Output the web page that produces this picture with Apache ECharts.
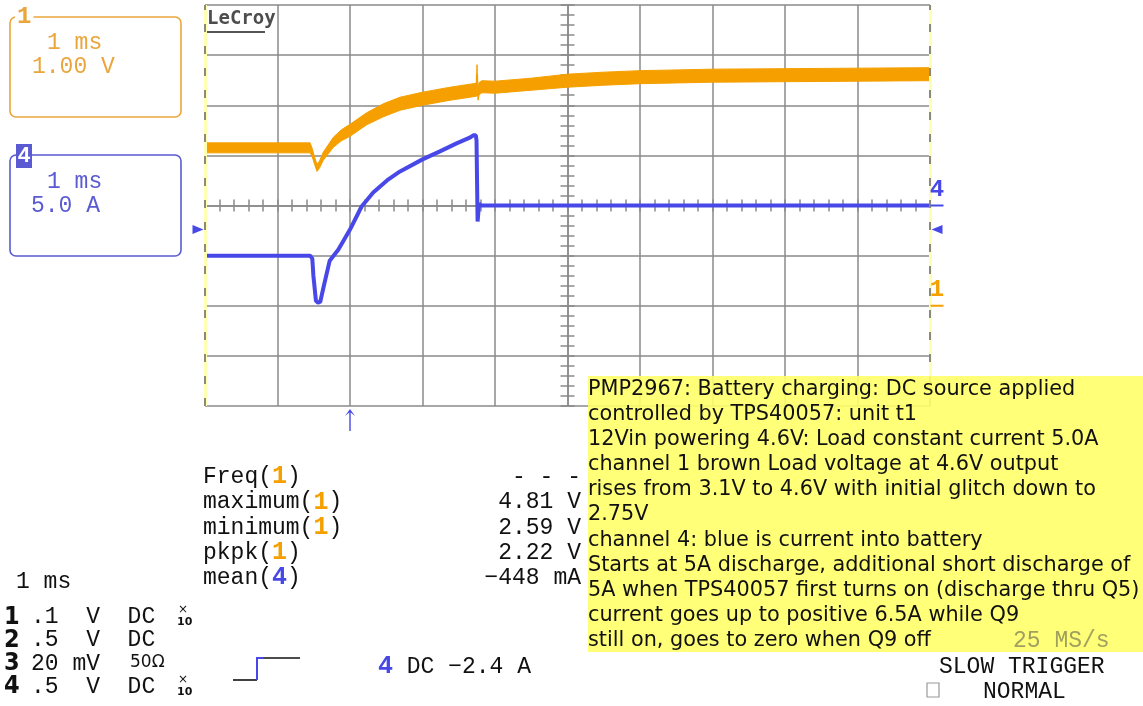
<!DOCTYPE html>
<html><head><meta charset="utf-8">
<script src="https://cdn.jsdelivr.net/npm/echarts@6/dist/echarts.min.js"></script>
<style>html,body{margin:0;padding:0;background:#fff;}#c{width:1143px;height:706px;}</style>
</head><body><div id="c"></div>
<script>
// ---- data (time in ms, trigger at 0) ----
const ch1Time  = [-2.0, -0.55, -0.52, -0.49, -0.455, -0.42, -0.37, -0.30, -0.23, -0.12, 0.0, 0.23, 0.46, 0.69, 1.0, 1.38, 1.70, 1.745, 1.752, 1.76, 1.768, 1.78, 1.82, 2.0, 2.5, 3.0, 3.5, 4.0, 5.0, 6.0, 7.0, 8.0];
const ch1Volts = [3.15, 3.15, 3.05, 2.90, 2.75, 2.82, 2.98, 3.12, 3.26, 3.40, 3.50, 3.73, 3.90, 4.03, 4.13, 4.23, 4.30, 4.31, 4.62, 4.30, 4.20, 4.33, 4.37, 4.36, 4.42, 4.49, 4.53, 4.56, 4.59, 4.60, 4.61, 4.62];
const ch1Noise = [0.10, 0.10, 0.08, 0.07, 0.07, 0.07, 0.08, 0.09, 0.10, 0.11, 0.12, 0.12, 0.13, 0.13, 0.13, 0.13, 0.13, 0.13, 0.19, 0.12, 0.10, 0.12, 0.12, 0.12, 0.12, 0.13, 0.13, 0.13, 0.13, 0.13, 0.13, 0.13];
const ch4Time  = [-2.0, -0.55, -0.52, -0.505, -0.47, -0.44, -0.41, -0.37, -0.28, -0.16, 0.0, 0.16, 0.32, 0.51, 0.69, 1.0, 1.24, 1.47, 1.66, 1.70, 1.735, 1.745, 1.76, 1.78, 1.80, 8.0];
const ch4Amps  = [-5.0, -5.0, -5.3, -7.0, -9.5, -9.7, -9.6, -8.3, -5.5, -4.4, -2.4, -0.1, 1.3, 2.5, 3.4, 4.6, 5.4, 6.2, 6.8, 7.0, 7.0, 6.5, -1.6, 0.2, 0.0, 0.0];
const triggerLevel = -2.4;
const measureNames = ['Freq', 'maximum', 'minimum', 'pkpk', 'mean'];
const measureChans = ['1', '1', '1', '1', '4'];
const measureValues = ['- - -', '4.81 V', '2.59 V', '2.22 V', '\u2212448 mA'];
const chanNums = ['1', '2', '3', '4'];
const chanRows = ['.1  V  DC', '.5  V  DC', '20 mV', '.5  V  DC'];
const annotationLines = [
  'PMP2967: Battery charging: DC source applied',
  'controlled by TPS40057: unit t1',
  '12Vin powering 4.6V: Load constant current 5.0A',
  'channel 1 brown Load voltage at 4.6V output',
  'rises from 3.1V to 4.6V with initial glitch down to',
  '2.75V',
  'channel 4: blue is current into battery',
  'Starts at 5A discharge, additional short discharge of',
  '5A when TPS40057 first turns on (discharge thru Q5)',
  'current goes up to positive 6.5A while Q9',
  'still on, goes to zero when Q9 off'
];

// ---- styling ----
const ORANGE = '#F5A000', ORANGE_T = '#EAA53C', BLUE = '#4848E8', BLUE_T = '#5A5AD2';
const GRID = '#8a8a8a';
const MONO = "'Liberation Mono','DejaVu Sans Mono',monospace";
const SANS = "'DejaVu Sans',sans-serif";

const ch1Center = ch1Volts.map((v, i) => [ch1Time[i], v]);
const ch4Data  = ch4Amps.map((a, i) => [ch4Time[i], a]);

function T(x, y, text, extra) {
  return { type: 'text', z: 100, silent: true,
    style: Object.assign({ x: x, y: y, text: text, fontFamily: MONO, fontSize: 23, fill: '#111',
      align: 'left', verticalAlign: 'middle' }, extra || {}) };
}
const lineSty = { color: GRID, width: 1.5 };

const graphics = [];
// channel boxes
graphics.push({ type: 'rect', z: 90, shape: { x: 10, y: 17, width: 171, height: 100, r: 6 }, style: { fill: 'none', stroke: ORANGE_T, lineWidth: 1.6 } });
graphics.push(T(15, 17, '1', { fill: ORANGE_T, fontWeight: 'bold', fontSize: 24, backgroundColor: '#fff', padding: [0, 2, 0, 2] }));
graphics.push(T(47, 43, '1 ms', { fill: ORANGE_T }));
graphics.push(T(32, 67, '1.00 V', { fill: ORANGE_T }));
graphics.push({ type: 'rect', z: 90, shape: { x: 10, y: 155, width: 171, height: 101, r: 6 }, style: { fill: 'none', stroke: BLUE_T, lineWidth: 1.6 } });
graphics.push({ type: 'rect', z: 95, shape: { x: 16, y: 144, width: 16, height: 24 }, style: { fill: BLUE_T } });
graphics.push(T(24, 156, '4', { fill: '#fff', fontWeight: 'bold', fontSize: 22, align: 'center' }));
graphics.push(T(47, 182, '1 ms', { fill: BLUE_T }));
graphics.push(T(31, 206, '5.0 A', { fill: BLUE_T }));
// logo
graphics.push(T(207, 19, 'LeCroy', { fill: '#4d4d4d', fontWeight: 'bold', fontSize: 19, fontFamily: "'DejaVu Sans Mono',monospace" }));
graphics.push({ type: 'line', z: 100, shape: { x1: 207, y1: 32, x2: 265, y2: 32 }, style: { stroke: '#555', lineWidth: 2 } });
// measurements
measureNames.forEach((n, i) => {
  const y = 477 + i * 25.3;
  const c = measureChans[i] === '4' ? BLUE : ORANGE;
  graphics.push(T(203, y, n + '({c|' + measureChans[i] + '})', {
    rich: { c: { fill: c, fontWeight: 'bold', fontSize: 25, fontFamily: MONO } } }));
  graphics.push(T(581, y, measureValues[i], { align: 'right' }));
});
// bottom-left channel table
graphics.push(T(16, 582, '1 ms'));
chanNums.forEach((n, i) => {
  const y = 617 + i * 23.3;
  graphics.push(T(4, y, n, { fontWeight: 'bold', fontSize: 25, fontFamily: "'Liberation Sans Narrow','DejaVu Sans Condensed',sans-serif" }));
  graphics.push(T(31, y, chanRows[i]));
});
graphics.push(T(130, 663, '50\u03A9', { fontSize: 17, fontFamily: SANS }));
[617, 687].forEach(y => {
  graphics.push(T(178, y - 7, '\u00D7', { fontSize: 12, fontFamily: SANS }));
  graphics.push(T(177, y + 5, '10', { fontSize: 11, fontWeight: 'bold', fontFamily: SANS }));
});
// trigger symbol
graphics.push({ type: 'polyline', z: 100, shape: { points: [[233, 680], [257, 680]] }, style: { stroke: '#111', lineWidth: 1.6, fill: 'none' } });
graphics.push({ type: 'polyline', z: 100, shape: { points: [[257, 680], [257, 658], [263, 658]] }, style: { stroke: BLUE, lineWidth: 2, fill: 'none' } });
graphics.push({ type: 'polyline', z: 100, shape: { points: [[263, 658], [300, 658]] }, style: { stroke: '#111', lineWidth: 1.6, fill: 'none' } });
graphics.push(T(378, 667, '{b|4} DC \u22122.4 A', { rich: { b: { fill: BLUE, fontWeight: 'bold', fontSize: 25, fontFamily: MONO } } }));
// annotation box
graphics.push({ type: 'rect', z: 98, shape: { x: 588, y: 376, width: 555, height: 276 }, style: { fill: 'rgba(255,255,105,0.9)' } });
graphics.push({ type: 'text', z: 100, silent: true, style: { x: 588, y: 377, text: annotationLines.join('\n'), fontFamily: SANS, fontSize: 20.8, lineHeight: 25.1, fill: '#111', align: 'left', verticalAlign: 'top' } });
graphics.push(T(1013, 641, '25 MS/s', { fill: '#A0A060' }));
graphics.push(T(939, 667, 'SLOW TRIGGER'));
graphics.push(T(983, 692, 'NORMAL'));
graphics.push({ type: 'rect', z: 100, shape: { x: 927, y: 683, width: 12, height: 14 }, style: { fill: 'none', stroke: '#999', lineWidth: 1.2 } });

const option = {
  animation: false,
  backgroundColor: '#fff',
  grid: { left: 205, top: 5, width: 725, height: 401, containLabel: false },
  xAxis: [
    { type: 'value', position: 'bottom', min: -2, max: 8, interval: 1,
      axisLabel: { show: false },
      axisLine: { show: true, onZero: true, onZeroAxisIndex: 1, lineStyle: lineSty },
      axisTick: { show: true, length: 6, lineStyle: lineSty },
      minorTick: { show: true, splitNumber: 5, length: 6, lineStyle: lineSty },
      splitLine: { show: true, showMinLine: false, showMaxLine: false, lineStyle: lineSty } },
    { type: 'value', position: 'bottom', min: -2, max: 8, interval: 1,
      axisLabel: { show: false },
      axisLine: { show: false, onZero: true, onZeroAxisIndex: 1 },
      axisTick: { show: true, inside: true, length: 6, lineStyle: lineSty },
      minorTick: { show: true, splitNumber: 5, length: 6, lineStyle: lineSty },
      splitLine: { show: false } }
  ],
  yAxis: [
    { type: 'value', position: 'left', offset: -362.5, min: -2, max: 6, interval: 1,
      axisLabel: { show: false },
      axisLine: { show: true, onZero: false, lineStyle: lineSty },
      axisTick: { show: true, length: 7, lineStyle: lineSty },
      minorTick: { show: true, splitNumber: 5, length: 7, lineStyle: lineSty },
      splitLine: { show: true, lineStyle: lineSty } },
    { type: 'value', position: 'left', offset: -362.5, min: -20, max: 20, interval: 5,
      axisLabel: { show: false },
      axisLine: { show: false, onZero: false },
      axisTick: { show: true, inside: true, length: 7, lineStyle: lineSty },
      minorTick: { show: true, splitNumber: 5, length: 7, lineStyle: lineSty },
      splitLine: { show: false } }
  ],
  series: [
    { name: 'ch1 band', type: 'custom', xAxisIndex: 0, yAxisIndex: 0, silent: true, z: 3,
      data: [ch1Center[0]],
      renderItem: function (params, api) {
        const upper = ch1Time.map((t, i) => api.coord([t, ch1Volts[i] + ch1Noise[i]]));
        const lower = ch1Time.map((t, i) => api.coord([t, ch1Volts[i] - ch1Noise[i]])).reverse();
        return { type: 'polygon', shape: { points: upper.concat(lower) },
          style: { fill: ORANGE, stroke: ORANGE, lineWidth: 1 } };
      } },
    { name: 'ch1', type: 'line', xAxisIndex: 0, yAxisIndex: 0, data: ch1Center,
      symbol: 'none', silent: true, z: 3,
      lineStyle: { color: ORANGE, width: 2 },
      markPoint: { silent: true, animation: false, data: [
        { coord: [8, 0], symbol: 'rect', symbolSize: [13, 2], symbolOffset: [7, 0], itemStyle: { color: ORANGE },
          label: { show: true, formatter: '1', position: 'top', distance: 3, color: ORANGE, fontSize: 24, fontWeight: 'bold', fontFamily: MONO } }
      ] } },
    { name: 'ch4', type: 'line', xAxisIndex: 0, yAxisIndex: 1, data: ch4Data, z: 4,
      symbol: 'none', silent: true, lineStyle: { color: BLUE, width: 4 },
      markLine: { silent: true, animation: false, symbol: ['none', 'none'], label: { show: false },
        data: [
          { xAxis: -2, lineStyle: { color: '#FFFFB4', width: 3, type: 'solid' } },
          { xAxis: 8, lineStyle: { color: '#FFFFB4', width: 3, type: 'solid' } },
          { xAxis: -2, lineStyle: { color: '#666', width: 1.5, type: [8, 14] } },
          { xAxis: 8, lineStyle: { color: '#666', width: 1.5, type: [8, 14] } }
        ] },
      markPoint: { silent: true, animation: false, data: [
        { coord: [8, 0], symbol: 'rect', symbolSize: [13, 2], symbolOffset: [7, 0], itemStyle: { color: BLUE },
          label: { show: true, formatter: '4', position: 'top', distance: 3, color: BLUE, fontSize: 24, fontWeight: 'bold', fontFamily: MONO } },
        { coord: [8, triggerLevel], symbol: 'triangle', symbolSize: [9, 11], symbolRotate: 90, symbolOffset: [7, 0], itemStyle: { color: BLUE }, label: { show: false } },
        { coord: [-2, triggerLevel], symbol: 'triangle', symbolSize: [9, 11], symbolRotate: -90, symbolOffset: [-7, 0], itemStyle: { color: BLUE }, label: { show: false } },
        { coord: [0, -20], symbol: 'path://M5 0 L10 7 L5.7 3.5 L5.7 22 L4.3 22 L4.3 3.5 L0 7 Z', symbolSize: [10, 22], symbolOffset: [0, 14], itemStyle: { color: BLUE }, label: { show: false } }
      ] } }
  ],
  graphic: { elements: graphics }
};
const chart = echarts.init(document.getElementById('c'), null, { renderer: 'canvas' });
chart.setOption(option);
</script></body></html>
